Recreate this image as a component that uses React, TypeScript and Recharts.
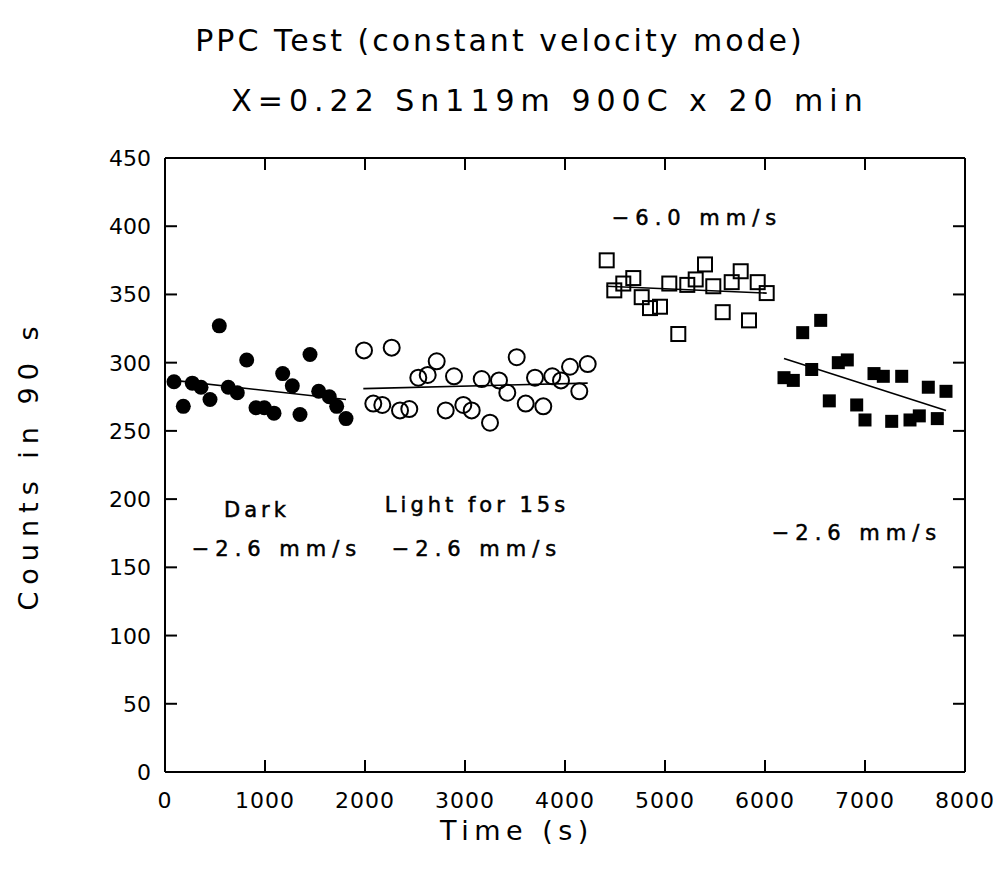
import { ScatterChart, Scatter, XAxis, YAxis } from 'recharts'

// Dark, -2.6 mm/s (filled circles)
const darkTime = [90, 183, 273, 360, 450, 543, 633, 723, 817, 910, 993, 1090, 1177, 1273, 1350, 1450, 1537, 1643, 1717, 1810]
const darkCounts = [286, 268, 285, 282, 273, 327, 282, 278, 302, 267, 267, 263, 292, 283, 262, 306, 279, 275, 268, 259]
const darkFitTime = [90, 1810]
const darkFitCounts = [287, 273]

// Light for 15s, -2.6 mm/s (open circles)
const lightTime = [1990, 2083, 2173, 2267, 2350, 2443, 2533, 2627, 2717, 2807, 2890, 2983, 3067, 3167, 3250, 3340, 3423, 3517, 3607, 3700, 3783, 3873, 3960, 4050, 4143, 4227]
const lightCounts = [309, 270, 269, 311, 265, 266, 289, 291, 301, 265, 290, 269, 265, 288, 256, 287, 278, 304, 270, 289, 268, 290, 287, 297, 279, 299]
const lightFitTime = [1983, 4227]
const lightFitCounts = [281, 285]

// -6.0 mm/s (open squares)
const fastTime = [4417, 4493, 4583, 4683, 4767, 4850, 4950, 5043, 5133, 5223, 5307, 5400, 5483, 5577, 5667, 5757, 5840, 5927, 6017]
const fastCounts = [375, 353, 358, 362, 348, 340, 341, 358, 321, 357, 361, 372, 356, 337, 359, 367, 331, 359, 351]
const fastFitTime = [4417, 6017]
const fastFitCounts = [356, 351]

// -2.6 mm/s again (filled squares)
const slowTime = [6190, 6283, 6377, 6467, 6557, 6643, 6733, 6823, 6917, 7000, 7090, 7183, 7267, 7367, 7450, 7543, 7633, 7723, 7810]
const slowCounts = [289, 287, 322, 295, 331, 272, 300, 302, 269, 258, 292, 290, 257, 290, 258, 261, 282, 259, 279]
const slowFitTime = [6190, 7810]
const slowFitCounts = [303, 265]

const xTicks = [0, 1000, 2000, 3000, 4000, 5000, 6000, 7000, 8000]
const yTicks = [0, 50, 100, 150, 200, 250, 300, 350, 400, 450]
const X_MIN = 0
const X_MAX = 8000
const Y_MIN = 0
const Y_MAX = 450

const pts = (ts: number[], cs: number[]) => ts.map((t, i) => ({ t, c: cs[i] }))

const FONT = '"DejaVu Sans", sans-serif'
const TICK_LEN = 12
const axisLine = { stroke: '#000', strokeWidth: 2 }

const LeftTick = (p: any) => (
  <text x={Number(p.x)} y={Number(p.y)} dy={8} textAnchor="end" fontFamily={FONT} fontSize={22} fill="#000">
    {p.payload.value}
  </text>
)
const BottomTick = (p: any) => (
  <text x={Number(p.x)} y={Number(p.y)} dy={24} textAnchor="middle" fontFamily={FONT} fontSize={22} letterSpacing={1} fill="#000">
    {p.payload.value}
  </text>
)

// inward tick marks on all four sides, placed through the chart scales
const tickMark = (dx: number, dy: number) => (p: any) =>
  <path d={`M${p.cx},${p.cy}l${dx},${dy}`} stroke="#000" strokeWidth={2} fill="none" />
const bottomMarks = xTicks.map((t) => ({ t, c: Y_MIN }))
const topMarks = xTicks.map((t) => ({ t, c: Y_MAX }))
const leftMarks = yTicks.map((c) => ({ t: X_MIN, c }))
const rightMarks = yTicks.map((c) => ({ t: X_MAX, c }))

const FilledCircle = (p: any) => <circle cx={p.cx} cy={p.cy} r={7.5} fill="#000" />
const OpenCircle = (p: any) => <circle cx={p.cx} cy={p.cy} r={8} fill="none" stroke="#000" strokeWidth={2} />
const OpenSquare = (p: any) => (
  <rect x={p.cx - 7} y={p.cy - 7} width={14} height={14} fill="none" stroke="#000" strokeWidth={2} />
)
const FilledSquare = (p: any) => <rect x={p.cx - 6.5} y={p.cy - 6.5} width={13} height={13} fill="#000" />
const NoShape = () => <g />

const fitLine = { stroke: '#000', strokeWidth: 1.6 }
const noteStyle = { fontFamily: FONT, fontSize: 21, letterSpacing: 4, fill: '#000', stroke: '#000', strokeWidth: 0.5 }
const rateStyle = { ...noteStyle, letterSpacing: 6 }

export default function App() {
  return (
    <div style={{ position: 'absolute', left: 0, top: 0, width: 1000, height: 875, background: '#fff' }}>
      <ScatterChart width={1000} height={875} margin={{ top: 148, right: 25, bottom: 43, left: 105 }}>
        <XAxis
          type="number"
          dataKey="t"
          domain={[X_MIN, X_MAX]}
          ticks={xTicks}
          tickSize={0}
          tickMargin={12}
          height={60}
          axisLine={axisLine}
          tickLine={false}
          tick={BottomTick}
        />
        <XAxis
          xAxisId="top"
          orientation="top"
          type="number"
          dataKey="t"
          domain={[X_MIN, X_MAX]}
          ticks={xTicks}
          height={10}
          axisLine={axisLine}
          tickLine={false}
          tick={false}
        />
        <YAxis
          type="number"
          dataKey="c"
          domain={[Y_MIN, Y_MAX]}
          ticks={yTicks}
          tickSize={0}
          tickMargin={14}
          width={60}
          axisLine={axisLine}
          tickLine={false}
          tick={LeftTick}
        />
        <YAxis
          yAxisId="right"
          orientation="right"
          type="number"
          dataKey="c"
          domain={[Y_MIN, Y_MAX]}
          ticks={yTicks}
          width={10}
          axisLine={axisLine}
          tickLine={false}
          tick={false}
        />

        <Scatter data={bottomMarks} shape={tickMark(0, -TICK_LEN)} isAnimationActive={false} />
        <Scatter data={topMarks} shape={tickMark(0, TICK_LEN)} isAnimationActive={false} />
        <Scatter data={leftMarks} shape={tickMark(TICK_LEN, 0)} isAnimationActive={false} />
        <Scatter data={rightMarks} shape={tickMark(-TICK_LEN, 0)} isAnimationActive={false} />

        <Scatter data={pts(darkFitTime, darkFitCounts)} line={fitLine} lineType="joint" shape={NoShape} isAnimationActive={false} />
        <Scatter data={pts(lightFitTime, lightFitCounts)} line={fitLine} lineType="joint" shape={NoShape} isAnimationActive={false} />
        <Scatter data={pts(fastFitTime, fastFitCounts)} line={fitLine} lineType="joint" shape={NoShape} isAnimationActive={false} />
        <Scatter data={pts(slowFitTime, slowFitCounts)} line={fitLine} lineType="joint" shape={NoShape} isAnimationActive={false} />

        <Scatter data={pts(darkTime, darkCounts)} shape={FilledCircle} isAnimationActive={false} />
        <Scatter data={pts(lightTime, lightCounts)} shape={OpenCircle} isAnimationActive={false} />
        <Scatter data={pts(fastTime, fastCounts)} shape={OpenSquare} isAnimationActive={false} />
        <Scatter data={pts(slowTime, slowCounts)} shape={FilledSquare} isAnimationActive={false} />

        <text x={500} y={51} textAnchor="middle" fontFamily={FONT} fontSize={30} letterSpacing={3} fill="#000">
          PPC Test (constant velocity mode)
        </text>
        <text x={550} y={111} textAnchor="middle" fontFamily={FONT} fontSize={30} letterSpacing={6} fill="#000">
          X=0.22 Sn119m 900C x 20 min
        </text>
        <text x={517} y={840} textAnchor="middle" fontFamily={FONT} fontSize={27} letterSpacing={5.5} fill="#000">
          Time (s)
        </text>
        <text
          x={38}
          y={465}
          transform="rotate(-90 38 465)"
          textAnchor="middle"
          fontFamily={FONT}
          fontSize={27}
          letterSpacing={7}
          fill="#000"
        >
          Counts in 90 s
        </text>

        <text x={697} y={225} textAnchor="middle" {...rateStyle}>−6.0 mm/s</text>
        <text x={257} y={517} textAnchor="middle" {...noteStyle}>Dark</text>
        <text x={277} y={556} textAnchor="middle" {...rateStyle}>−2.6 mm/s</text>
        <text x={477} y={512} textAnchor="middle" {...noteStyle}>Light for 15s</text>
        <text x={477} y={556} textAnchor="middle" {...rateStyle}>−2.6 mm/s</text>
        <text x={857} y={540} textAnchor="middle" {...rateStyle}>−2.6 mm/s</text>
      </ScatterChart>
    </div>
  )
}
